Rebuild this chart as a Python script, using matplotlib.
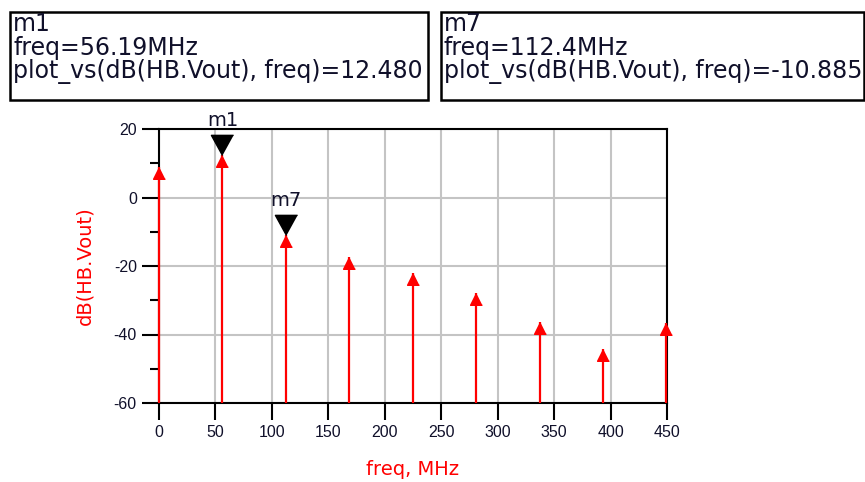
import numpy as np
import matplotlib.pyplot as plt
from matplotlib.patches import Rectangle

plt.rcParams['font.family'] = ['Liberation Sans', 'DejaVu Sans']
plt.rcParams['axes.unicode_minus'] = False

# harmonic spectrum of Vout (harmonic balance)
freq = [0.0, 56.19, 112.4, 168.6, 224.8, 281.0, 337.1, 393.3, 449.5]
vout_db = [9.0, 12.48, -10.885, -17.3, -22.0, -28.0, -36.3, -44.3, -36.7]

markers = ["m1", "m7"]
marker_idx = [1, 2]

xticks = np.arange(0, 451, 50)
yticks = np.arange(-60, 21, 20)

W, H = 865, 482
fig = plt.figure(figsize=(W / 100, H / 100), dpi=100)
ax = fig.add_axes([159 / W, 1 - 403 / H, (667 - 159) / W, (403 - 129) / H])

def px(x, y):
    return x / W, 1 - y / H

txt_col = '#10102a'
wide = ['DejaVu Sans']

ax.set_xlim(0, 450)
ax.set_ylim(-60, 20)
ax.set_xticks(xticks)
ax.set_yticks(yticks)
ax.set_yticks(np.arange(-50, 20, 20), minor=True)
ax.tick_params(axis='both', which='major', length=12, width=1.5, color='black',
               labelsize=11.5, labelcolor=txt_col, pad=4)
ax.tick_params(axis='y', which='minor', length=6.5, width=1.5, color='black')
ax.grid(True, which='major', color='#c4c4c4', lw=1.5)
ax.set_axisbelow(True)
for s in ax.spines.values():
    s.set_color('black')
    s.set_linewidth(1.5)

# stems with arrow heads, tip at the value
ax.vlines(freq, -60, vout_db, color='red', lw=1.6, zorder=3, clip_on=False)
up_tri = [(0, 0), (-0.5, -1), (0.5, -1)]
ax.plot(freq, vout_db, ls='none', marker=up_tri, ms=17, color='red', zorder=4, clip_on=False)

# markers m1 / m7
down_tri = [(0, 0), (-1.1, 2), (1.1, 2)]
for name, i in zip(markers, marker_idx):
    ax.plot(freq[i], vout_db[i], ls='none', marker=down_tri, ms=29, color='black',
            zorder=5, clip_on=False)
    ax.annotate(name, (freq[i], vout_db[i]), xytext=(0, 25), textcoords='offset points',
                ha='center', va='center', fontsize=14, family=wide, color=txt_col)

ax.set_ylabel('dB(HB.Vout)', color='red', fontsize=14, family=wide, labelpad=14)
ax.set_xlabel('freq, MHz', color='red', fontsize=14, family=wide, labelpad=14)

# marker readout boxes
boxes = [(10, 428), (441, 864)]
for (x0, x1), name, i in zip(boxes, markers, marker_idx):
    fx0, fy0 = px(x0, 100)
    fx1, fy1 = px(x1, 12)
    fig.patches.append(Rectangle((fx0, fy0), fx1 - fx0, fy1 - fy0, transform=fig.transFigure,
                                 fill=False, ec='black', lw=1.8))
    lines = [name, f"freq={freq[i]:.4g}MHz", f"plot_vs(dB(HB.Vout), freq)={vout_db[i]:.3f}"]
    fig.text(*px(x0 + 3, 48), "\n".join(lines), fontsize=17, family=wide,
             color=txt_col, va='center', linespacing=0.95)

fig.savefig('out.png', dpi=100)
